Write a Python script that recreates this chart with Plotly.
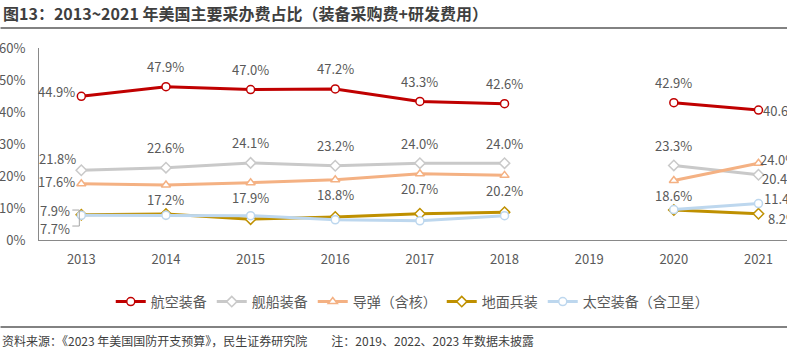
import plotly.graph_objects as go

years = ["2013", "2014", "2015", "2016", "2017", "2018", "2019", "2020", "2021"]
aviation = [44.9, 47.9, 47.0, 47.2, 43.3, 42.6, None, 42.9, 40.6]
ships = [21.8, 22.6, 24.1, 23.2, 24.0, 24.0, None, 23.3, 20.4]
missiles = [17.6, 17.2, 17.9, 18.8, 20.7, 20.2, None, 18.6, 24.0]
ground = [7.9, 8.1, 6.5, 7.2, 8.2, 8.7, None, 9.4, 8.2]
space = [7.7, 7.7, 7.6, 6.3, 6.0, 7.6, None, 9.5, 11.4]

names = ["航空装备", "舰船装备", "导弹（含核）", "地面兵装", "太空装备（含卫星）"]
series = [aviation, ships, missiles, ground, space]
colors = ["#C00000", "#C9C9C9", "#F4B183", "#BF9000", "#BDD7EE"]
symbols = ["circle", "diamond", "triangle-up", "diamond", "circle"]

# label placement per point: (xanchor, xshift, yshift) or None
UP = ("center", 0, 20)
label_pos = [
    [("right", -5, 5), UP, UP, UP, UP, UP, None, UP, ("left", 4, 0)],
    [("right", -4, 12), UP, UP, UP, UP, UP, None, UP, ("left", 3, -4)],
    [("right", -5, 2)] + [("center", 0, -15)] * 5 + [None, ("center", 0, -15), ("left", 1, 4)],
    [("right", -10, 4), None, None, None, None, None, None, None, ("left", 9, -5)],
    [("right", -10, -13), None, None, None, None, None, None, None, ("left", 5, 5)],
]

FONT = "Microsoft YaHei, Noto Sans CJK SC, sans-serif"
LABEL_COLOR = "#595959"
xidx = list(range(len(years)))

fig = go.Figure()
for name, vals, col, sym in zip(names, series, colors, symbols):
    fig.add_trace(go.Scatter(
        x=xidx, y=vals, name=name, mode="lines+markers",
        line=dict(color=col, width=3),
        marker=dict(symbol=sym, size=8, color="white", line=dict(color=col, width=1.5)),
        connectgaps=False,
    ))

annotations = []
for vals, pos in zip(series, label_pos):
    for i, v, p in zip(xidx, vals, pos):
        if v is None or p is None:
            continue
        xa, xs, ys = p
        annotations.append(dict(
            x=i, y=v, xref="x", yref="y", text=f"{v:.1f}%", showarrow=False,
            xanchor=xa, yanchor="middle", xshift=xs, yshift=ys, borderpad=0,
            font=dict(size=13, color=LABEL_COLOR, family=FONT),
        ))

L, T, B, R = 38.5, 48, 115, 0
W, Hh = 787, 355
PW, PH = W - L - R, Hh - T - B

# title
annotations.append(dict(
    x=0, y=1, xref="paper", yref="paper",
    text="<b>图13：2013~2021 年美国主要采办费占比（装备采购费+研发费用）</b>",
    showarrow=False, xanchor="left", yanchor="middle", xshift=-L, yshift=T - 13,
    font=dict(size=16, color="#3F3F3F", family=FONT),
))
# footnote
annotations.append(dict(
    x=0, y=0, xref="paper", yref="paper",
    text="资料来源：《2023 年美国国防开支预算》，民生证券研究院　　注：2019、2022、2023 年数据未披露",
    showarrow=False, xanchor="left", yanchor="middle", xshift=-L - 1, yshift=-(340 - (Hh - B)),
    font=dict(size=12, color="#404040", family=FONT),
))

fig.update_layout(
    width=W, height=Hh,
    margin=dict(l=L, r=R, t=T, b=B, autoexpand=False),
    paper_bgcolor="white", plot_bgcolor="white",
    font=dict(family=FONT, color=LABEL_COLOR, size=13),
    showlegend=True,
    legend=dict(orientation="h", x=(412 - L) / PW, xanchor="center",
                y=-(302 - (Hh - B)) / PH, yanchor="middle",
                font=dict(size=14, color=LABEL_COLOR), itemwidth=30, tracegroupgap=0),
    annotations=annotations,
)
fig.update_xaxes(range=[-0.5, 8.337], tickmode="array", tickvals=xidx, ticktext=years,
                 showline=True, linecolor="#898989", automargin=False,
                 linewidth=1, showgrid=False, zeroline=False, ticks="", ticklabelstandoff=7,
                 tickfont=dict(size=13, color=LABEL_COLOR))
fig.update_yaxes(range=[0, 60], dtick=10, ticksuffix="%", showline=True, linecolor="#898989",
                 linewidth=1, showgrid=False, ticks="", zeroline=False, automargin=False,
                 ticklabelstandoff=10, tickfont=dict(size=13, color=LABEL_COLOR))

# bracket linking the 2013 ground / space labels to their points
fig.add_shape(type="path", xref="x", yref="y", xsizemode="pixel", ysizemode="pixel",
              xanchor=0, yanchor=(ground[0] + space[0]) / 2,
              path="M -9 5 L -2 5 L -2 -11 L -9 -11",
              line=dict(color="#A6A6A6", width=1))

# horizontal rules: title underline and footnote rule
fig.add_shape(type="line", xref="paper", yref="paper", x0=-L / PW, x1=1,
              y0=1 + (T - 28) / PH, y1=1 + (T - 28) / PH, line=dict(color="#595959", width=1.5))
fig.add_shape(type="line", xref="paper", yref="paper", x0=-L / PW, x1=1,
              y0=-(327 - (Hh - B)) / PH, y1=-(327 - (Hh - B)) / PH, line=dict(color="#595959", width=1.5))

fig.write_html("out.html", config={"displayModeBar": False},
               post_script="document.body.style.margin='0';")
